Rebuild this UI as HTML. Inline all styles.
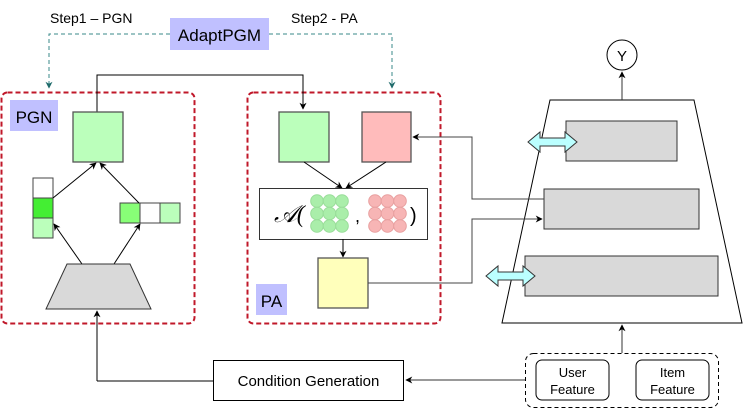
<!DOCTYPE html>
<html><head><meta charset="utf-8"><style>
body{margin:0;background:#fff}
svg{display:block;font-family:"Liberation Sans",sans-serif}
</style></head><body>
<svg width="743" height="409" viewBox="0 0 743 409" xmlns="http://www.w3.org/2000/svg">
<defs>
<marker id="a" viewBox="0 0 10 10" refX="9" refY="5" markerWidth="7" markerHeight="7" orient="auto-start-reverse"><path d="M0,0 L10,5 L0,10 L3,5 z" fill="#000"/></marker>
<marker id="t" viewBox="0 0 10 10" refX="9" refY="5" markerWidth="7" markerHeight="7" orient="auto"><path d="M0,0 L10,5 L0,10 L3,5 z" fill="#1f6b6b"/></marker>
</defs>
<text x="50" y="23" font-size="14">Step1 – PGN</text>
<text x="291" y="23" font-size="14">Step2 - PA</text>
<path d="M170,34 H49 V88" fill="none" stroke="#3a8a8a" stroke-dasharray="4,3" marker-end="url(#t)"/>
<path d="M269,34 H392 V88" fill="none" stroke="#3a8a8a" stroke-dasharray="4,3" marker-end="url(#t)"/>
<rect x="170" y="18" width="99" height="32" fill="#c0c0ff"/>
<text x="219.5" y="41" font-size="17" text-anchor="middle">AdaptPGM</text>

<rect x="1.5" y="92.5" width="193" height="231" rx="6" fill="none" stroke="#c0182a" stroke-width="2" stroke-dasharray="5,3"/>
<rect x="247.5" y="92.5" width="193" height="231" rx="6" fill="none" stroke="#c0182a" stroke-width="2" stroke-dasharray="5,3"/>
<rect x="10" y="100" width="48" height="31" fill="#c0c0ff"/>
<text x="34" y="123" font-size="17" text-anchor="middle">PGN</text>
<rect x="256" y="284" width="31" height="31" fill="#c0c0ff"/>
<text x="271.5" y="307" font-size="17" text-anchor="middle">PA</text>

<path d="M97,112 V75 H303 V109" fill="none" stroke="#000" marker-end="url(#a)"/>
<rect x="73" y="112" width="50" height="50" fill="#bbffbb" stroke="#555" stroke-width="1.3"/>
<rect x="33" y="178" width="20" height="20" fill="#fff" stroke="#444"/>
<rect x="33" y="198" width="20" height="20" fill="#44ee33" stroke="#444"/>
<rect x="33" y="218" width="20" height="20" fill="#bbffbb" stroke="#444"/>
<rect x="120" y="203" width="20" height="20" fill="#88ff77" stroke="#444"/>
<rect x="140" y="203" width="20" height="20" fill="#fff" stroke="#444"/>
<rect x="160" y="203" width="20" height="20" fill="#bbffbb" stroke="#444"/>
<path d="M53,198 L96,163" stroke="#000" marker-end="url(#a)"/>
<path d="M139,203 L100,163" stroke="#000" marker-end="url(#a)"/>
<path d="M82,264 L54,224" stroke="#000" marker-end="url(#a)"/>
<path d="M114,264 L140,224" stroke="#000" marker-end="url(#a)"/>
<polygon points="67,264 130,264 151,309 46,309" fill="#d9d9d9" stroke="#333"/>
<path d="M97,381 V311" fill="none" stroke="#000" marker-end="url(#a)"/>
<path d="M97,381 H213" stroke="#000"/>

<rect x="279" y="112" width="50" height="50" fill="#bbffbb" stroke="#555" stroke-width="1.3"/>
<rect x="362" y="112" width="49" height="50" fill="#ffbbbb" stroke="#555" stroke-width="1.3"/>
<path d="M304,162 L342,188" stroke="#000" marker-end="url(#a)"/>
<path d="M386,162 L346,188" stroke="#000" marker-end="url(#a)"/>
<rect x="259.5" y="188.5" width="168" height="51" fill="#fff" stroke="#333"/>
<text x="274" y="222" font-size="24" font-family="Liberation Serif,serif" font-style="italic">𝒜(</text>
<g fill="#aaeeaa" stroke="#99dd99">
<circle cx="317" cy="201" r="6.3"/><circle cx="329.5" cy="201" r="6.3"/><circle cx="342" cy="201" r="6.3"/>
<circle cx="317" cy="213.5" r="6.3"/><circle cx="329.5" cy="213.5" r="6.3"/><circle cx="342" cy="213.5" r="6.3"/>
<circle cx="317" cy="226" r="6.3"/><circle cx="329.5" cy="226" r="6.3"/><circle cx="342" cy="226" r="6.3"/>
</g>
<text x="355" y="222" font-size="18">,</text>
<g fill="#f7b5b5" stroke="#e8a0a0">
<circle cx="375" cy="201" r="6.3"/><circle cx="387.5" cy="201" r="6.3"/><circle cx="400" cy="201" r="6.3"/>
<circle cx="375" cy="213.5" r="6.3"/><circle cx="387.5" cy="213.5" r="6.3"/><circle cx="400" cy="213.5" r="6.3"/>
<circle cx="375" cy="226" r="6.3"/><circle cx="387.5" cy="226" r="6.3"/><circle cx="400" cy="226" r="6.3"/>
</g>
<text x="410" y="222" font-size="20">)</text>
<path d="M343,239 V257" stroke="#000" marker-end="url(#a)"/>
<rect x="318" y="258" width="50" height="50" fill="#ffffbb" stroke="#555" stroke-width="1.3"/>

<polygon points="550,100 694,100 742,323 502,323" fill="#fff" stroke="#000"/>
<path d="M622,100 V72" stroke="#333" marker-end="url(#a)"/>
<circle cx="622" cy="55" r="15" fill="#fff" stroke="#000"/>
<text x="622" y="61" font-size="15" text-anchor="middle">Y</text>
<rect x="566" y="121" width="111" height="40" fill="#d9d9d9" stroke="#333"/>
<rect x="544" y="189" width="155" height="40" fill="#d9d9d9" stroke="#333"/>
<rect x="525" y="256" width="193" height="40" fill="#d9d9d9" stroke="#333"/>
<polygon points="528,142 540,132 540,138 565,138 565,132 577,142 565,152 565,146 540,146 540,152" fill="#bbffff" stroke="#333"/>
<polygon points="486,276 498,266 498,272 523,272 523,266 535,276 523,286 523,280 498,280 498,286" fill="#bbffff" stroke="#333"/>
<path d="M544,199 H472 V137 H413" fill="none" stroke="#444" marker-end="url(#a)"/>
<path d="M368,283 H472 V219 H542" fill="none" stroke="#444" marker-end="url(#a)"/>

<rect x="525.5" y="353.5" width="193" height="54" rx="8" fill="none" stroke="#000" stroke-dasharray="4,3"/>
<rect x="536" y="360" width="73" height="40" rx="6" fill="#fff" stroke="#000"/>
<rect x="636" y="360" width="73" height="40" rx="6" fill="#fff" stroke="#000"/>
<text x="572.5" y="377" font-size="13" text-anchor="middle">User</text>
<text x="572.5" y="394" font-size="13" text-anchor="middle">Feature</text>
<text x="672.5" y="377" font-size="13" text-anchor="middle">Item</text>
<text x="672.5" y="394" font-size="13" text-anchor="middle">Feature</text>
<path d="M622,353 V325" stroke="#333" marker-end="url(#a)"/>
<path d="M525,380 H406" stroke="#333" marker-end="url(#a)"/>
<rect x="213.5" y="360.5" width="190" height="40" fill="#fff" stroke="#000"/>
<text x="308.5" y="386" font-size="15" text-anchor="middle">Condition Generation</text>
</svg>
</body></html>
